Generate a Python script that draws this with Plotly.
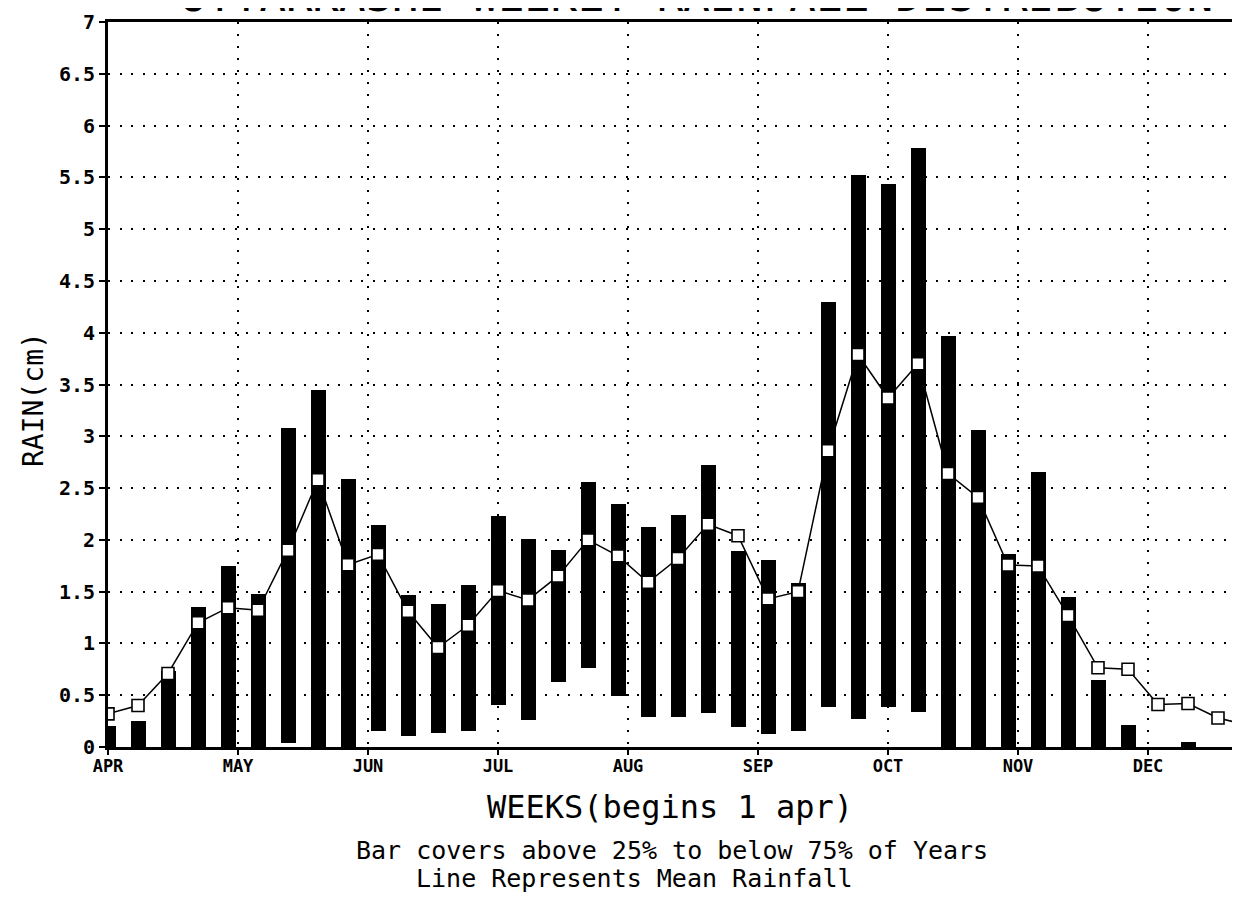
import plotly.graph_objects as go

# ---- data (week index from 1 April) ----
weeks = list(range(38))
p25 = [0, 0, 0, 0, 0, 0, 0.04, 0, 0, 0.15, 0.11, 0.135, 0.15, 0.405, 0.26, 0.625,
       0.76, 0.49, 0.29, 0.29, 0.325, 0.19, 0.13, 0.155, 0.39, 0.27, 0.39, 0.34,
       0, 0, 0, 0, 0, 0, 0, 0, 0, 0]
p75 = [0.20, 0.25, 0.73, 1.35, 1.75, 1.48, 3.08, 3.45, 2.59, 2.14, 1.47, 1.38, 1.56,
       2.23, 2.01, 1.90, 2.56, 2.35, 2.12, 2.24, 2.72, 1.89, 1.81, 1.58, 4.30, 5.52,
       5.44, 5.78, 3.97, 3.06, 1.86, 2.66, 1.45, 0.65, 0.21, 0, 0.05, 0]
mean_weeks = list(range(39))
mean_rain = [0.32, 0.40, 0.71, 1.20, 1.345, 1.32, 1.90, 2.58, 1.76, 1.86, 1.31, 0.96,
             1.175, 1.51, 1.42, 1.65, 2.00, 1.845, 1.59, 1.82, 2.15, 2.04, 1.43, 1.50,
             2.86, 3.79, 3.37, 3.70, 2.64, 2.41, 1.757, 1.748, 1.27, 0.765, 0.75, 0.41,
             0.42, 0.28, 0.21]
month_labels = ["APR", "MAY", "JUN", "JUL", "AUG", "SEP", "OCT", "NOV", "DEC"]
month_pos = [i * 13 / 3 for i in range(len(month_labels))]
y_vals = [i * 0.5 for i in range(15)]
y_text = [("%g" % v) for v in y_vals]

FONT = "DejaVu Sans Mono"
OFF = 8                      # page body margin
W, H = 1224, 908             # figure size (fits the window with the body margin)
L, T, B = 108 - OFF, 22 - OFF, 747 - OFF   # plot edges in figure pixels
PW, PH = W - L, B - T


def px(xp):                  # reference page x -> paper x
    return (xp - OFF - L) / PW


def py(yp):                  # reference page y -> paper y
    return (B - (yp - OFF)) / PH


fig = go.Figure()
fig.add_trace(go.Bar(
    x=weeks, y=[t - b for t, b in zip(p75, p25)], base=p25,
    width=0.5, marker=dict(color="black", line=dict(width=0)),
    showlegend=False, hoverinfo="skip"))
fig.add_trace(go.Scatter(
    x=mean_weeks, y=mean_rain, mode="lines+markers",
    line=dict(color="black", width=1.5),
    marker=dict(symbol="square", size=12, color="white",
                line=dict(color="black", width=1.6)),
    showlegend=False))

fig.update_layout(
    width=W, height=H,
    margin=dict(l=L, r=0, t=T, b=H - B),
    paper_bgcolor="white", plot_bgcolor="white",
    bargap=0,
    xaxis=dict(
        range=[0, (1232 - 108) / 30], tickmode="array", tickvals=month_pos,
        ticktext=month_labels,
        showline=True, linecolor="black", linewidth=3, mirror=True,
        ticks="outside", ticklen=5, tickwidth=2, tickcolor="black",
        showgrid=True, gridcolor="black", gridwidth=1.5, griddash="2px,10px",
        zeroline=False, automargin=False, ticklabelstandoff=-3,
        tickfont=dict(family=FONT, size=17, color="black", weight="bold"),
    ),
    yaxis=dict(
        range=[0, 7], tickmode="array", tickvals=y_vals, ticktext=y_text,
        showline=True, linecolor="black", linewidth=3,
        ticks="outside", ticklen=6, tickwidth=2, tickcolor="black",
        showgrid=True, gridcolor="black", gridwidth=1.5, griddash="2px,9.5px",
        zeroline=False, automargin=False,
        tickfont=dict(family=FONT, size=20, color="black", weight="bold"),
    ),
    annotations=[
        dict(text="UTTARKASHI WEEKLY RAINFALL DISTRIBUTION", xref="paper", yref="paper",
             x=px(178), y=(B - 15.5) / PH, xanchor="left", yanchor="bottom",
             showarrow=False, font=dict(family=FONT, size=44, color="black")),
        dict(text="RAIN(cm)", xref="paper", yref="paper", textangle=-90,
             x=px(33), y=py(400), xanchor="center", yanchor="middle", showarrow=False,
             font=dict(family=FONT, size=28, color="black")),
        dict(text="WEEKS(begins 1 apr)", xref="paper", yref="paper",
             x=px(670), y=py(807), xanchor="center", yanchor="middle",
             showarrow=False, font=dict(family=FONT, size=32, color="black")),
        dict(text="Bar covers above 25% to below 75% of Years", xref="paper", yref="paper",
             x=px(672), y=py(850), xanchor="center", yanchor="middle",
             showarrow=False, font=dict(family=FONT, size=25, color="black")),
        dict(text="Line Represents Mean Rainfall", xref="paper", yref="paper",
             x=px(634), y=py(878), xanchor="center", yanchor="middle",
             showarrow=False, font=dict(family=FONT, size=25, color="black")),
    ],
)

fig.write_html("out.html")
